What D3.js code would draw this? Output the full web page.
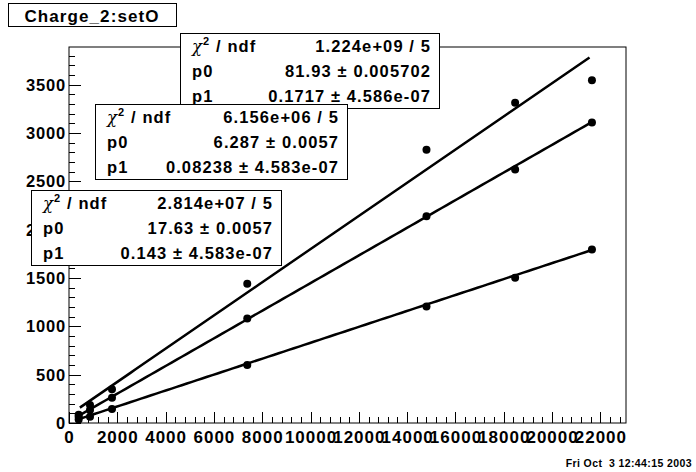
<!DOCTYPE html>
<html><head><meta charset="utf-8">
<script src="https://cdn.jsdelivr.net/npm/d3@7"></script>
<style>
html,body{margin:0;padding:0;background:#fff;}
text{font-family:"Liberation Sans",Arial,Helvetica,sans-serif;font-weight:bold;fill:#000;}
</style></head>
<body><svg id="c" width="696" height="472"></svg>
<script>
// ---- data ----
const title = "Charge_2:setO";
const dateText = "Fri Oct  3 12:44:15 2003";
const xValues = [400, 870, 1780, 7380, 14800, 18470, 21650];
const seriesTop = [85, 185, 350, 1440, 2828, 3313, 3545];
const seriesMid = [65, 135, 260, 1080, 2138, 2622, 3108];
const seriesBot = [35, 65, 145, 600, 1205, 1503, 1795];
const fitTop = {p0: 81.93, p1: 0.1717};
const fitMid = {p0: 17.63, p1: 0.143};
const fitBot = {p0: 6.287, p1: 0.08238};
const fitRange = [450, 21550];
const xTicks = [0, 2000, 4000, 6000, 8000, 10000, 12000, 14000, 16000, 18000, 20000, 22000];
const yTicks = [0, 500, 1000, 1500, 2000, 2500, 3000, 3500];
const xDomain = [0, 23060];
const yDomain = [0, 3890];
const statsTop = [["chi2", "1.224e+09 / 5"], ["p0", "81.93 \u00b1 0.005702"], ["p1", "0.1717 \u00b1 4.586e-07"]];
const statsBot = [["chi2", "6.156e+06 / 5"], ["p0", "6.287 \u00b1 0.0057"], ["p1", "0.08238 \u00b1 4.583e-07"]];
const statsMid = [["chi2", "2.814e+07 / 5"], ["p0", "17.63 \u00b1 0.0057"], ["p1", "0.143 \u00b1 4.583e-07"]];

// ---- layout ----
const svg = d3.select("#c");
const L = 69, R = 626, T = 47, B = 423;
const x = d3.scaleLinear().domain(xDomain).range([L, R]);
const y = d3.scaleLinear().domain(yDomain).range([B, T]);

svg.append("rect").attr("width", 696).attr("height", 472).attr("fill", "#fff");

// frame
svg.append("rect").attr("x", L).attr("y", T).attr("width", R - L).attr("height", B - T)
  .attr("fill", "none").attr("stroke", "#000").attr("stroke-width", 1);

// x ticks
const xMinor = d3.range(0, xDomain[1], 400);
svg.append("g").selectAll("line").data(xMinor).join("line")
  .attr("x1", d => Math.round(x(d)) + 0.5).attr("x2", d => Math.round(x(d)) + 0.5)
  .attr("y1", B).attr("y2", d => d % 2000 === 0 ? B - 11 : B - 6)
  .attr("stroke", "#000").attr("stroke-width", 1);
svg.append("g").selectAll("text").data(xTicks).join("text")
  .attr("x", d => x(d) + 0.5).attr("y", 443)
  .attr("text-anchor", "middle").attr("font-size", 17).attr("letter-spacing", 1)
  .text(d => d);

// y ticks
const yMinor = d3.range(0, yDomain[1], 100);
svg.append("g").selectAll("line").data(yMinor).join("line")
  .attr("y1", d => Math.round(y(d)) + 0.5).attr("y2", d => Math.round(y(d)) + 0.5)
  .attr("x1", L).attr("x2", d => d % 500 === 0 ? L + 12 : L + 6)
  .attr("stroke", "#000").attr("stroke-width", 1);
svg.append("g").selectAll("text").data(yTicks).join("text")
  .attr("x", 66).attr("y", d => y(d) + 6)
  .attr("text-anchor", "end").attr("font-size", 16.5).attr("letter-spacing", 0.8)
  .text(d => d);

// points and fits
const seriesList = [[seriesTop, fitTop], [seriesMid, fitMid], [seriesBot, fitBot]];
seriesList.forEach(([vals, fit]) => {
  svg.append("g").selectAll("circle").data(vals).join("circle")
    .attr("cx", (d, i) => x(xValues[i])).attr("cy", d => y(d)).attr("r", 4).attr("fill", "#000");
  const pts = d3.range(0, 101).map(i => {
    const xv = fitRange[0] + (fitRange[1] - fitRange[0]) * i / 100;
    return [xv, fit.p0 + fit.p1 * xv];
  });
  svg.append("path").datum(pts)
    .attr("d", d3.line().x(d => x(d[0])).y(d => y(d[1])))
    .attr("fill", "none").attr("stroke", "#000").attr("stroke-width", 2.5);
});

// title box
svg.append("rect").attr("x", 8.5).attr("y", 3.5).attr("width", 168).attr("height", 23)
  .attr("fill", "#fff").attr("stroke", "#000");
svg.append("text").attr("x", 92).attr("y", 21.5).attr("text-anchor", "middle")
  .attr("font-size", 17).attr("letter-spacing", 1.1).text(title);

// stat boxes
function statBox(bx, by, bw, rows) {
  const g = svg.append("g");
  g.append("rect").attr("x", bx + 0.5).attr("y", by + 0.5).attr("width", bw).attr("height", 75)
    .attr("fill", "#fff").attr("stroke", "#000");
  rows.forEach((r, i) => {
    const ty = by + 18.5 + 25 * i;
    const t = g.append("text").attr("x", bx + 12).attr("y", ty).attr("font-size", 16.5).attr("letter-spacing", 1.1);
    if (r[0] === "chi2") {
      t.append("tspan").attr("font-family", "DejaVu Serif, serif").attr("font-style", "italic").attr("font-weight", "normal").text("\u03c7");
      t.append("tspan").attr("font-size", 11).attr("dy", -7).text("2");
      t.append("tspan").attr("dy", 7).text(" / ndf");
    } else {
      t.text(r[0]);
    }
    g.append("text").attr("x", bx + bw - 8).attr("y", ty).attr("text-anchor", "end")
      .attr("font-size", 16.5).attr("letter-spacing", 1.1).text(r[1]);
  });
}
statBox(180, 33, 259, statsTop);
statBox(95, 104, 252, statsBot);
statBox(31, 190, 250, statsMid);

// date
svg.append("text").attr("x", 692).attr("y", 467).attr("text-anchor", "end")
  .attr("font-size", 10.5).attr("letter-spacing", 0.4).style("white-space", "pre").text(dateText);
</script></body></html>
